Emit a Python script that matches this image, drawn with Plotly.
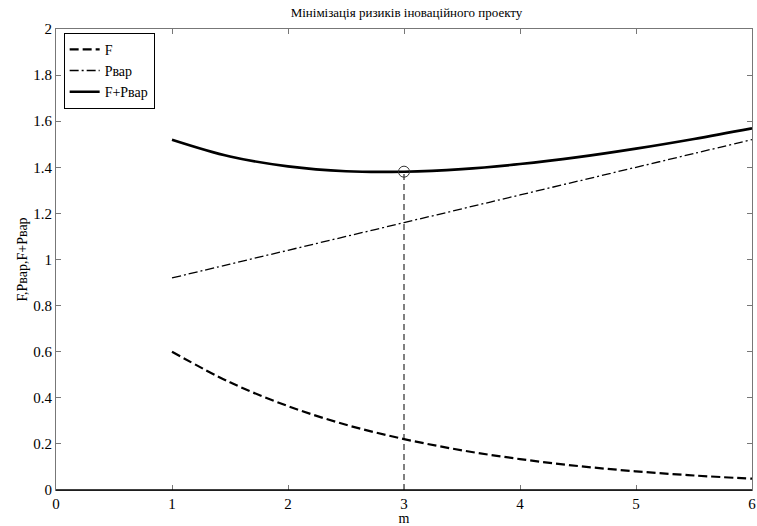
import plotly.graph_objects as go

m = [1, 1.5, 2, 2.5, 3, 3.5, 4, 4.5, 5, 5.5, 6]
F = [0.600, 0.467, 0.364, 0.283, 0.221, 0.172, 0.134, 0.104, 0.081, 0.063, 0.049]
P_var = [0.92, 0.98, 1.04, 1.10, 1.16, 1.22, 1.28, 1.34, 1.40, 1.46, 1.52]
F_plus_P = [1.520, 1.447, 1.404, 1.383, 1.381, 1.392, 1.414, 1.444, 1.481, 1.523, 1.569]
m_opt = 3
y_opt = 1.381

x_ticks = [0, 1, 2, 3, 4, 5, 6]
y_ticks = [0, 0.2, 0.4, 0.6, 0.8, 1, 1.2, 1.4, 1.6, 1.8, 2]
y_tick_text = ["0", "0.2", "0.4", "0.6", "0.8", "1", "1.2", "1.4", "1.6", "1.8", "2"]

font = "Liberation Serif"

fig = go.Figure()
fig.add_trace(go.Scatter(x=m, y=F, mode="lines", name="F",
                         line=dict(color="black", width=2.2, dash="9px,4px", shape="spline")))
fig.add_trace(go.Scatter(x=m, y=P_var, mode="lines", name="Рвар",
                         line=dict(color="black", width=1.3, dash="9px,3px,2px,3px", shape="spline")))
fig.add_trace(go.Scatter(x=m, y=F_plus_P, mode="lines", name="F+Рвар",
                         line=dict(color="black", width=2.6, shape="spline")))
fig.add_trace(go.Scatter(x=[m_opt, m_opt], y=[0, y_opt], mode="lines", showlegend=False,
                         line=dict(color="black", width=1, dash="6px,4px")))
fig.add_trace(go.Scatter(x=[m_opt], y=[y_opt], mode="markers", showlegend=False,
                         marker=dict(symbol="circle-open", size=11, color="#333",
                                     line=dict(width=1))))

fig.update_layout(
    width=757, height=526,
    margin=dict(l=56, r=1, t=29, b=36),
    paper_bgcolor="white", plot_bgcolor="white",
    font=dict(family=font, size=14, color="black"),
    title=dict(text="Мінімізація ризиків іноваційного проекту", x=0.537, xanchor="center",
               y=0.977, yanchor="middle", font=dict(family=font, size=13)),
    showlegend=True,
    legend=dict(x=0.011, y=0.992, xanchor="left", yanchor="top",
                bordercolor="black", borderwidth=1, bgcolor="white",
                font=dict(family=font, size=14), tracegroupgap=0, itemwidth=30),
    xaxis=dict(range=[0, 6], tickvals=x_ticks, ticks="inside", ticklen=5,
               tickcolor="#777", showline=True, linecolor="#777", mirror="ticks",
               showgrid=False, zeroline=False, ticklabeloverflow="allow",
               tickfont=dict(family=font, size=15),
               title=dict(text="m", standoff=0, font=dict(family=font, size=14))),
    yaxis=dict(range=[0, 2], tickvals=y_ticks, ticktext=y_tick_text, ticks="inside",
               ticklen=5, tickcolor="#777", showline=True, linecolor="#777",
               mirror="ticks", showgrid=False, zeroline=False,
               tickfont=dict(family=font, size=15),
               title=dict(text="F,Рвар,F+Рвар", standoff=2, font=dict(family=font, size=14))),
    shapes=[dict(type="line", xref="paper", yref="paper", x0=0, x1=1, y0=0, y1=0,
                 line=dict(color="black", width=1.5))],
)

fig.write_html("out.html", config={"displayModeBar": False},
               post_script="document.body.style.margin='0px';")
